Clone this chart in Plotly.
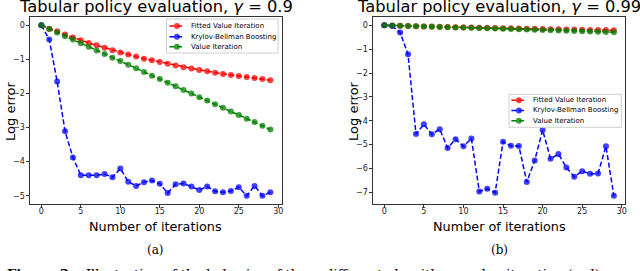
import plotly.graph_objects as go

iterations = list(range(30))

# Panel (a): gamma = 0.9
fvi_a = [0, -0.1, -0.18, -0.27, -0.36, -0.44, -0.52, -0.59, -0.66, -0.73, -0.8, -0.86, -0.92, -0.98,
         -1.03, -1.08, -1.13, -1.18, -1.23, -1.27, -1.31, -1.35, -1.39, -1.43, -1.46, -1.49, -1.52,
         -1.55, -1.58, -1.61]
kbb_a = [0, -0.42, -1.65, -3.11, -3.88, -4.4, -4.4, -4.4, -4.36, -4.46, -4.2, -4.59, -4.71, -4.6,
         -4.55, -4.65, -4.92, -4.66, -4.64, -4.73, -4.83, -4.73, -4.87, -4.9, -4.86, -4.75, -5.0,
         -4.71, -5.0, -4.9]
vi_a = [0, -0.11, -0.21, -0.32, -0.42, -0.53, -0.63, -0.74, -0.84, -0.95, -1.05, -1.16, -1.26, -1.37,
        -1.48, -1.58, -1.69, -1.79, -1.9, -2.0, -2.11, -2.21, -2.32, -2.42, -2.53, -2.63, -2.74,
        -2.84, -2.95, -3.06]

# Panel (b): gamma = 0.99
fvi_b = [0, -0.01, -0.02, -0.03, -0.04, -0.05, -0.055, -0.065, -0.075, -0.08, -0.09, -0.1, -0.105,
         -0.11, -0.12, -0.125, -0.13, -0.14, -0.145, -0.15, -0.16, -0.165, -0.17, -0.175, -0.18,
         -0.19, -0.195, -0.2, -0.205, -0.21]
kbb_b = [0, -0.03, -0.3, -1.22, -4.55, -4.15, -4.56, -4.35, -5.14, -4.77, -5.07, -4.74, -6.96, -6.85,
         -7.01, -4.88, -5.05, -5.06, -6.56, -5.66, -4.39, -5.59, -5.39, -5.96, -6.34, -6.11, -6.22,
         -6.21, -5.07, -7.14]
vi_b = [0, -0.01, -0.02, -0.03, -0.04, -0.05, -0.06, -0.07, -0.08, -0.09, -0.1, -0.11, -0.12, -0.13,
        -0.14, -0.15, -0.16, -0.17, -0.18, -0.19, -0.2, -0.21, -0.22, -0.23, -0.24, -0.25, -0.26,
        -0.27, -0.28, -0.29]

series_names = ["Fitted Value Iteration", "Krylov-Bellman Boosting", "Value Iteration"]
series_colors = ["#ff0000", "#0000ff", "#008000"]
titles = ["Tabular policy evaluation, <i>γ</i> = 0.9", "Tabular policy evaluation, <i>γ</i> = 0.99"]
x_label = "Number of iterations"
y_label = "Log error"
panel_labels = ["(a)", "(b)"]
caption_bold = "Figure 3."
caption_text = "Illustration of the behavior of three different algorithms, value iteration (red),"

W, H = 640, 271
DASH = "5px,2.5px"
fig = go.Figure()

panels = [
    dict(data=[fvi_a, kbb_a, vi_a], xa="x", ya="y", xdom=(30, 282.7),
         leg=dict(box=(167, 19, 279, 53), rows=(26, 36.7, 46.7), line=(170, 185), text=189.5)),
    dict(data=[fvi_b, kbb_b, vi_b], xa="x2", ya="y2", xdom=(374, 627.3),
         leg=dict(box=(510.7, 94.3, 623.3, 127.3), rows=(100.3, 110.5, 120.7), line=(513, 528), text=533)),
]
ytop, ybot = 16.7, 204.3

for p in panels:
    for vals, name, col in zip(p["data"], series_names, series_colors):
        fig.add_trace(go.Scatter(
            x=iterations, y=vals, name=name, xaxis=p["xa"], yaxis=p["ya"],
            mode="lines+markers",
            line=dict(color=col, width=1.5, dash=DASH),
            marker=dict(color=col, size=6, opacity=0.75),
        ))

def yrange(series):
    lo = min(min(s) for s in series)
    hi = max(max(s) for s in series)
    m = (hi - lo) * 0.05
    return [lo - m, hi + m]

axis_common = dict(showline=True, mirror=True, linecolor="#333", linewidth=1, ticks="outside",
                   ticklen=2.5, tickwidth=1, tickcolor="#333", showgrid=False, zeroline=False,
                   tickfont=dict(family="DejaVu Sans", size=8, color="#222"))

def px(x):
    return x / W

def py(y):
    return 1 - y / H

def note(text, x, y, size, family="DejaVu Sans", angle=0, xanchor="center"):
    fig.add_annotation(text=text, x=px(x), y=py(y), xref="paper", yref="paper", showarrow=False,
                       xanchor=xanchor, yanchor="middle", textangle=angle,
                       font=dict(family=family, size=size, color="black"))

for i, p in enumerate(panels):
    suffix = "" if i == 0 else str(i + 1)
    fig.layout["xaxis" + suffix] = dict(
        axis_common, domain=[px(p["xdom"][0]), px(p["xdom"][1])], range=[-1.45, 30.45],
        tickvals=[0, 5, 10, 15, 20, 25, 30], anchor="y" + suffix, ticklabelstandoff=-3)
    yr = yrange(p["data"])
    fig.layout["yaxis" + suffix] = dict(
        axis_common, domain=[py(ybot), py(ytop)], range=yr, dtick=1,
        anchor="x" + suffix)
    cx = (p["xdom"][0] + p["xdom"][1]) / 2
    note(titles[i], cx, 7, 16.3)
    note(x_label, cx, 226, 12.8)
    note(y_label, p["xdom"][0] - 20, 111, 13, angle=-90)
    note(panel_labels[i], cx, 249.5, 12, family="DejaVu Serif")

    # legend drawn as layout decorations
    lg = p["leg"]
    bx0, by0, bx1, by1 = lg["box"]
    fig.add_shape(type="rect", xref="paper", yref="paper", x0=px(bx0), x1=px(bx1), y0=py(by1), y1=py(by0),
                  line=dict(color="#d0d0d0", width=1), fillcolor="rgba(255,255,255,0.8)", layer="above")
    for ry, name, col in zip(lg["rows"], series_names, series_colors):
        lx0, lx1 = lg["line"]
        fig.add_shape(type="line", xref="paper", yref="paper", x0=px(lx0), x1=px(lx1), y0=py(ry), y1=py(ry),
                      line=dict(color=col, width=1.5, dash=DASH), layer="above")
        mc = (lx0 + lx1) / 2
        fig.add_shape(type="circle", xref="paper", yref="paper", x0=px(mc - 3), x1=px(mc + 3),
                      y0=py(ry + 3), y1=py(ry - 3), line=dict(width=0), fillcolor=col, opacity=0.75,
                      layer="above")
        fig.add_annotation(text=name, x=px(lg["text"]), y=py(ry), xref="paper", yref="paper",
                           showarrow=False, xanchor="left", yanchor="middle",
                           font=dict(family="DejaVu Sans", size=7, color="black"))

note("<b>" + caption_bold + "</b>   " + caption_text, 5, 274.5, 13.1, family="DejaVu Serif", xanchor="left")

fig.update_layout(
    width=W, height=H, margin=dict(l=0, r=0, t=0, b=0),
    paper_bgcolor="white", plot_bgcolor="white", showlegend=False,
)

fig.write_html("out.html", config={"displayModeBar": False},
               post_script="document.body.style.margin='0';document.body.style.overflow='hidden';")
